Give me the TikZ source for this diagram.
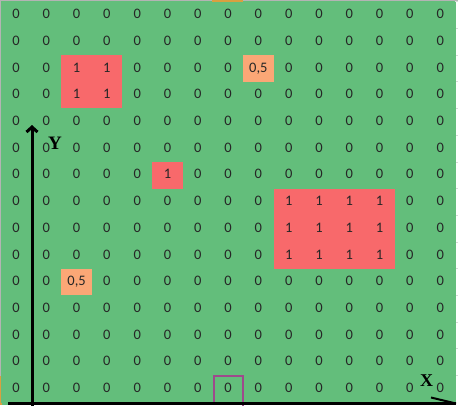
\documentclass[tikz,border=0pt]{standalone}
\usepackage{fontspec}
\setmainfont{Carlito}
\newfontfamily\axisfont{Liberation Serif}
\usetikzlibrary{matrix}
\usetikzlibrary{arrows.meta}
\definecolor{cellgreen}{HTML}{63BE7B}
\definecolor{cellred}{HTML}{F8696B}
\definecolor{cellorange}{HTML}{FBA776}
\definecolor{selpurple}{HTML}{9E4A8C}
\definecolor{edgegrey}{HTML}{B4B4B4}
\definecolor{taborange}{HTML}{D9A040}
\tikzset{
  cell/.style={fill=cellgreen, draw=cellgreen, line width=0.6pt, inner sep=0pt,
    minimum width=29.7pt, minimum height=26.1pt, text height=9.5pt, text depth=2pt,
    text=black!85, font=\fontsize{14.5}{15}\selectfont},
  hot/.style={fill=cellred, draw=cellred},
  half/.style={fill=cellorange, draw=cellorange},
  axis/.style={line width=3pt, black},
  axislabel/.style={font=\axisfont\bfseries\fontsize{19}{19}\selectfont, inner sep=0pt}
}
\begin{document}
\begin{tikzpicture}[x=1pt, y=-1pt]

    \useasboundingbox (0,0) rectangle (458,405);

    % Sheet background and edges
    \fill[white] (0,0) rectangle (458,405);
    \fill[cellgreen] (0,0) rectangle (454.5,405);
    \foreach \r in {0,...,14}
      \draw[edgegrey!50, line width=0.6pt] (454.5,{1.65+26.7*\r}) -- (458,{1.65+26.7*\r});
    \draw[edgegrey, line width=1.5pt] (0,0.5) -- (458,0.5);
    \draw[edgegrey, line width=1.5pt] (0.5,0) -- (0.5,376);
    \fill[taborange] (212,0) rectangle (243,1.5);
    \fill[taborange] (0,376) rectangle (1.5,405);

    % Grid of values
    \matrix (grid) [matrix of nodes, anchor=north west, nodes={cell},
      inner sep=0pt, outer sep=0pt, column sep=0pt, row sep=0pt] at (0.85,1.65) {
      0 & 0 & 0 & 0 & 0 & 0 & 0 & 0 & 0 & 0 & 0 & 0 & 0 & 0 & 0 \\
      0 & 0 & 0 & 0 & 0 & 0 & 0 & 0 & 0 & 0 & 0 & 0 & 0 & 0 & 0 \\
      0 & 0 & |[hot]| 1 & |[hot]| 1 & 0 & 0 & 0 & 0 & |[half]| 0,5 & 0 & 0 & 0 & 0 & 0 & 0 \\
      0 & 0 & |[hot]| 1 & |[hot]| 1 & 0 & 0 & 0 & 0 & 0 & 0 & 0 & 0 & 0 & 0 & 0 \\
      0 & 0 & 0 & 0 & 0 & 0 & 0 & 0 & 0 & 0 & 0 & 0 & 0 & 0 & 0 \\
      0 & 0 & 0 & 0 & 0 & 0 & 0 & 0 & 0 & 0 & 0 & 0 & 0 & 0 & 0 \\
      0 & 0 & 0 & 0 & 0 & |[hot]| 1 & 0 & 0 & 0 & 0 & 0 & 0 & 0 & 0 & 0 \\
      0 & 0 & 0 & 0 & 0 & 0 & 0 & 0 & 0 & |[hot]| 1 & |[hot]| 1 & |[hot]| 1 & |[hot]| 1 & 0 & 0 \\
      0 & 0 & 0 & 0 & 0 & 0 & 0 & 0 & 0 & |[hot]| 1 & |[hot]| 1 & |[hot]| 1 & |[hot]| 1 & 0 & 0 \\
      0 & 0 & 0 & 0 & 0 & 0 & 0 & 0 & 0 & |[hot]| 1 & |[hot]| 1 & |[hot]| 1 & |[hot]| 1 & 0 & 0 \\
      0 & 0 & |[half]| 0,5 & 0 & 0 & 0 & 0 & 0 & 0 & 0 & 0 & 0 & 0 & 0 & 0 \\
      0 & 0 & 0 & 0 & 0 & 0 & 0 & 0 & 0 & 0 & 0 & 0 & 0 & 0 & 0 \\
      0 & 0 & 0 & 0 & 0 & 0 & 0 & 0 & 0 & 0 & 0 & 0 & 0 & 0 & 0 \\
      0 & 0 & 0 & 0 & 0 & 0 & 0 & 0 & 0 & 0 & 0 & 0 & 0 & 0 & 0 \\
      0 & 0 & 0 & 0 & 0 & 0 & 0 & 0 & 0 & 0 & 0 & 0 & 0 & 0 & 0 \\
    };

    % Selected cell
    \draw[selpurple, line width=2pt] ([xshift=0.5pt]grid-15-8.south west)
      |- ([yshift=-0.5pt]grid-15-8.north east) -- ++(0,31);

    % Axis: Y
    \coordinate (yfoot) at (32,406);
    \coordinate (ytip) at (32,125);
    \draw[axis, -{Straight Barb[length=5pt, width=11pt]}] (yfoot) -- (ytip);

    % Axis: X
    \coordinate (xfoot) at (8,403.5);
    \coordinate (xend) at (456,403.5);
    \coordinate (xbarb) at (431,397.5);
    \draw[axis] (xfoot) -- (xend);
    \draw[black, line width=2pt] (xbarb) -- (xend);

    % Labels: axes
    \node[axislabel] (ylab) at (55,143) {Y};
    \node[axislabel, font=\axisfont\bfseries\fontsize{18}{18}\selectfont] (xlab) at (426.5,381) {X};

\end{tikzpicture}
\end{document}
